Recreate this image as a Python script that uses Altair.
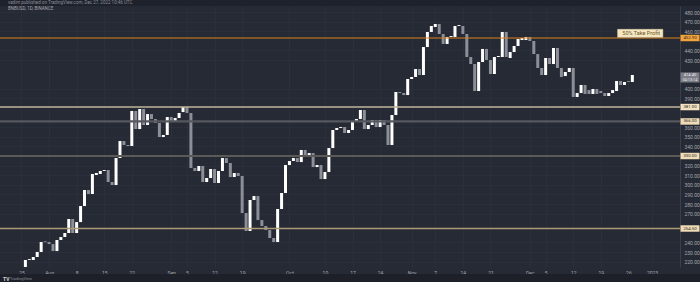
import altair as alt
import pandas as pd

# ---- daily bars (open / close), starting 2022-07-26 ----
opens = [214.4, 221.7, 221.7, 224.8, 230.0, 241.2, 240.4, 238.3, 231.0, 242.5,
         245.6, 249.8, 264.4, 249.8, 261.2, 277.9, 294.6, 290.4, 310.2, 311.3,
         314.4, 315.4, 302.9, 299.8, 327.9, 345.6, 341.5, 340.4, 376.9, 358.1,
         379.0, 362.3, 373.7, 368.5, 364.4, 349.8, 351.9, 370.6, 366.5, 369.6,
         375.8, 381.0, 374.8, 317.5, 314.4, 319.6, 302.9, 307.1, 316.5, 301.9,
         314.4, 327.9, 322.7, 308.1, 312.3, 309.2, 270.6, 251.9, 284.2, 288.3,
         263.3, 257.1, 252.9, 244.6, 240.4, 274.8, 291.5, 320.6, 324.8, 327.9,
         323.7, 336.3, 331.0, 333.1, 318.5, 320.6, 306.0, 313.3, 338.3, 357.1,
         359.2, 360.2, 354.0, 357.1, 366.5, 368.5, 377.9, 358.1, 362.3, 367.5,
         360.2, 367.5, 362.3, 341.5, 372.7, 396.7, 395.6, 393.5, 410.2, 412.3,
         420.6, 414.4, 443.5, 459.2, 464.4, 467.5, 457.1, 446.7, 454.0, 454.0,
         465.4, 465.4, 457.1, 433.1, 425.8, 397.7, 427.9, 441.5, 430.0, 415.4,
         433.1, 433.1, 459.2, 432.1, 438.3, 444.6, 450.8, 450.8, 454.0, 449.8,
         436.2, 421.7, 414.4, 432.1, 425.8, 442.5, 421.7, 413.3, 417.5, 421.7,
         391.5, 395.6, 404.0, 398.7, 394.6, 399.8, 397.7, 395.6, 392.5, 395.6,
         397.7, 408.1, 404.0, 408.1, 407.1]
closes = [221.7, 222.6, 224.8, 230.0, 240.4, 240.2, 238.3, 231.0, 242.5, 245.6,
          249.8, 264.4, 249.8, 261.2, 277.9, 294.6, 290.4, 311.3, 312.3, 314.4,
          315.4, 302.9, 299.8, 327.9, 345.6, 341.5, 340.4, 376.9, 358.1, 379.0,
          362.3, 373.7, 368.5, 364.4, 349.8, 351.9, 370.6, 365.4, 369.6, 374.8,
          381.0, 374.8, 317.5, 314.4, 319.6, 302.9, 307.1, 316.5, 301.9, 314.4,
          327.9, 322.7, 308.1, 312.3, 309.2, 270.6, 251.9, 284.2, 288.3, 263.3,
          257.1, 252.9, 244.6, 240.4, 274.8, 291.5, 320.6, 324.8, 327.9, 323.7,
          336.3, 331.0, 333.1, 318.5, 320.6, 306.0, 313.3, 338.3, 357.1, 359.2,
          360.2, 354.0, 357.1, 366.5, 368.5, 377.9, 358.1, 362.3, 367.5, 360.2,
          367.5, 362.3, 341.5, 372.7, 396.7, 395.6, 393.5, 410.2, 412.3, 420.6,
          414.4, 443.5, 459.2, 465.4, 467.5, 457.1, 446.7, 454.0, 455.0, 465.4,
          466.4, 457.1, 433.1, 425.8, 397.7, 427.9, 441.5, 430.0, 415.4, 433.1,
          434.2, 459.2, 433.1, 438.3, 444.6, 451.9, 452.9, 454.0, 449.8, 436.2,
          421.7, 414.4, 432.1, 425.8, 442.5, 421.7, 412.3, 417.5, 421.7, 391.5,
          395.6, 404.0, 394.6, 394.6, 399.8, 394.6, 395.6, 392.5, 395.6, 398.7,
          408.1, 404.0, 407.1, 407.1, 414.4]
dates = pd.date_range("2022-07-26", periods=len(opens), freq="D").strftime("%Y-%m-%d").tolist()

tick_dates = ["2022-07-25", "2022-08-01", "2022-08-08", "2022-08-15", "2022-08-22",
              "2022-09-01", "2022-09-05", "2022-09-12", "2022-09-19", "2022-10-01",
              "2022-10-10", "2022-10-17", "2022-10-24", "2022-11-01", "2022-11-07",
              "2022-11-14", "2022-11-21", "2022-12-01", "2022-12-05", "2022-12-12",
              "2022-12-19", "2022-12-26", "2023-01-01"]
all_y_ticks = list(range(220, 481, 10))

level_prices = [452.9, 381.0, 366.0, 330.0, 254.5]
level_colors = ["#d9801c", "#bfb49c", "#56585f", "#5c5a56", "#ad9a78"]
level_widths = [1.2, 1.4, 2.2, 2.2, 1.4]
tag_fills = ["#f2a33a", "#f3e2bf", "#efdcb6", "#efdcb6", "#efdcb6"]

note_text = "50% Take Profit"
countdown = "04:13:14"
header_text = "vadim published on TradingView.com, Dec 27, 2022 10:46 UTC"
symbol_text = "BNBUSD, 1D, BINANCE"

# price-scale labels hidden behind the price tags (as the platform does)
last_price = closes[-1]
y_ticks = [t for t in all_y_ticks
           if all(abs(t - p) > 5.9 for p in level_prices)
           and not (last_price - 10.5 <= t <= last_price + 6.0)]


def ms(s):
    return int(pd.Timestamp(s, tz="UTC").timestamp() * 1000)


df = pd.DataFrame({"date": dates, "open": opens, "close": closes})
df["lo"] = df[["open", "close"]].min(axis=1)
df["hi"] = df[["open", "close"]].max(axis=1)
df["dir"] = ["up" if c >= o else "down" for o, c in zip(opens, closes)]

xscale = alt.Scale(type="utc", domain=[ms("2022-07-20T19:48:00"), ms("2023-01-06T19:48:00")])
yscale = alt.Scale(domain=[214.4, 486.25], nice=False, zero=False)

xaxis = alt.Axis(
    values=[ms(d) for d in tick_dates],
    labelExpr="utcdate(datum.value) == 1 ? (utcmonth(datum.value) == 0 ? utcFormat(datum.value, '%Y') : utcFormat(datum.value, '%b')) : '' + utcdate(datum.value)",
    title=None, labelPadding=3, labelBaseline="top", labelFlush=False, domain=False,
    grid=True, gridColor="#2b2f3b", ticks=False, labelFontSize=5, labelColor="#a3a6af",
    labelFont="Roboto",
)
yaxis = alt.Axis(values=y_ticks, format=".2f", title=None, orient="right",
                 labelPadding=4, labelAlign="left", labelBaseline="middle",
                 grid=True, gridColor="#2b2f3b", ticks=False, labelFontSize=5,
                 labelColor="#a3a6af", labelFont="Roboto", domain=True,
                 domainColor="#3b3f4b")

one = pd.DataFrame({"a": [0]})

header_band = alt.Chart(one).mark_rect(color="#1e222d").encode(
    x=alt.value(0), x2=alt.value(700), y=alt.value(-6), y2=alt.value(0))
bottom_band = alt.Chart(one).mark_rect(color="#1d2029").encode(
    x=alt.value(0), x2=alt.value(700), y=alt.value(268), y2=alt.value(276))

header = alt.Chart(one).mark_text(align="left", baseline="middle", fontSize=4.5,
                                  font="Roboto", color="#8a8d96").encode(
    x=alt.value(8), y=alt.value(-3), text=alt.value(header_text))
symbol = alt.Chart(one).mark_text(align="left", baseline="middle", fontSize=4.5,
                                  font="Roboto", color="#a3a6af").encode(
    x=alt.value(8), y=alt.value(3), text=alt.value(symbol_text))
logo1 = alt.Chart(one).mark_text(align="left", baseline="middle", fontSize=5,
                                 font="Roboto", fontWeight="bold", color="#d1d4dc").encode(
    x=alt.value(3), y=alt.value(273), text=alt.value("TV"))
logo2 = alt.Chart(one).mark_text(align="left", baseline="middle", fontSize=4,
                                 font="Roboto", color="#8a8d96").encode(
    x=alt.value(10), y=alt.value(273), text=alt.value("TradingView"))

levels = pd.DataFrame({"price": level_prices, "color": level_colors, "w": level_widths,
                       "fill": tag_fills,
                       "label": [f"{p:.2f}" for p in level_prices]})

rules = alt.Chart(levels).mark_rule().encode(
    y=alt.Y("price:Q", scale=yscale, axis=yaxis),
    color=alt.Color("color:N", scale=None),
    strokeWidth=alt.StrokeWidth("w:Q", scale=None),
)

candles = alt.Chart(df).mark_bar(size=3).encode(
    x=alt.X("date:T", scale=xscale, axis=xaxis),
    y=alt.Y("lo:Q", scale=yscale, axis=yaxis),
    y2="hi:Q",
    color=alt.Color("dir:N", scale=alt.Scale(domain=["up", "down"], range=["#ffffff", "#8c8f98"]),
                    legend=None),
)

note = pd.DataFrame({"x0": ["2022-12-23T06:00:00Z"], "x1": ["2023-01-03T18:00:00Z"],
                     "xm": ["2022-12-29T06:00:00Z"],
                     "y0": [453.6], "y1": [462.0], "ym": [457.8], "t": [note_text]})
note_box = alt.Chart(note).mark_rect(color="#f5e7c4", stroke="#d9c79a", strokeWidth=0.5).encode(
    x=alt.X("x0:T", scale=xscale, axis=xaxis), x2="x1:T",
    y=alt.Y("y0:Q", scale=yscale, axis=yaxis), y2="y1:Q")
note_txt = alt.Chart(note).mark_text(fontSize=5.5, font="Roboto", color="#6b5420",
                                     baseline="middle").encode(
    x=alt.X("xm:T", scale=xscale, axis=xaxis),
    y=alt.Y("ym:Q", scale=yscale, axis=yaxis), text="t:N")

tag_shape = "M-1,-0.34H1V0.34H-1Z"
tags = alt.Chart(levels).mark_point(shape=tag_shape, size=361, filled=True, opacity=1,
                                    strokeWidth=0).encode(
    x=alt.value(690), y=alt.Y("price:Q", scale=yscale, axis=yaxis),
    color=alt.Color("fill:N", scale=None))
tag_txt = alt.Chart(levels).mark_text(fontSize=4.3, font="Roboto", color="#2a2a2a",
                                      baseline="middle").encode(
    x=alt.value(690), y=alt.Y("price:Q", scale=yscale, axis=yaxis), text="label:N")

cur = pd.DataFrame({"price": [last_price], "label": [f"{last_price:.2f}"], "cd": [countdown]})
cur_tag = alt.Chart(cur).mark_point(shape="M-1,-0.27H1V0.79H-1Z", size=361, filled=True,
                                    opacity=1, strokeWidth=0, color="#7b7e88").encode(
    x=alt.value(690), y=alt.Y("price:Q", scale=yscale, axis=yaxis))
cur_txt = alt.Chart(cur).mark_text(fontSize=4, font="Roboto", color="#f0f0f0",
                                   baseline="middle", dy=-0.2).encode(
    x=alt.value(690), y=alt.Y("price:Q", scale=yscale, axis=yaxis), text="label:N")
cur_txt2 = alt.Chart(cur).mark_text(fontSize=3.8, font="Roboto", color="#e6e6e6",
                                    baseline="middle", dy=4.8).encode(
    x=alt.value(690), y=alt.Y("price:Q", scale=yscale, axis=yaxis), text="cd:N")

chart = alt.layer(
    candles, header_band, bottom_band, rules, note_box, note_txt,
    tags, tag_txt, cur_tag, cur_txt, cur_txt2, header, symbol, logo1, logo2,
).properties(
    width=680, height=261,
    padding={"left": 0, "top": 6, "right": 20, "bottom": 15},
    autosize=alt.AutoSizeParams(type="none"),
).configure(background="#262a35").configure_view(strokeWidth=0, fill="#262a35")

chart.save("out.html", embed_options={"renderer": "svg", "actions": False})
